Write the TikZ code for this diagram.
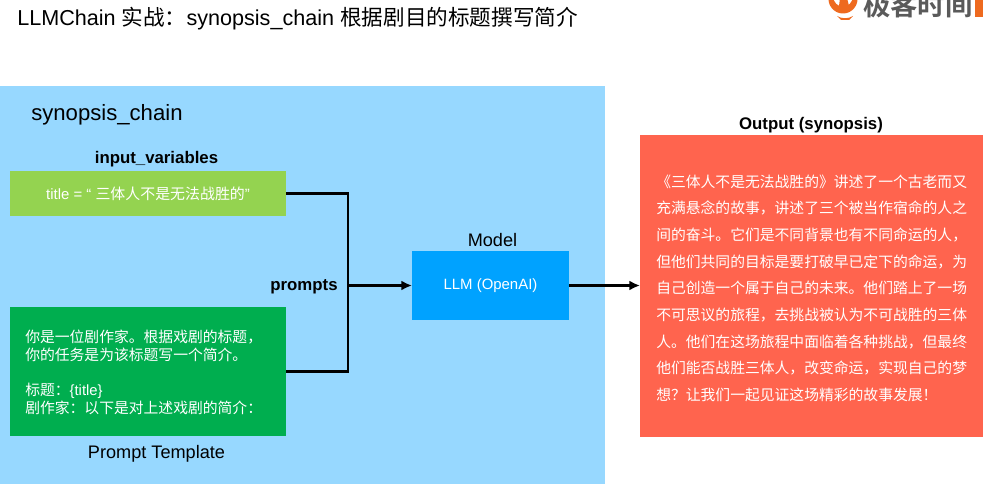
\documentclass[tikz,border=0pt]{standalone}
\usepackage{fontspec}
\setmainfont{Liberation Sans}
\newfontfamily\cjk{Noto Sans CJK SC}
\newfontfamily\cjkb{Noto Sans CJK SC Bold}
\newcommand{\cn}[1]{{\cjk #1}}
\definecolor{panelblue}{HTML}{97D8FF}
\definecolor{lightgreen}{HTML}{94D350}
\definecolor{darkgreen}{HTML}{00AE4F}
\definecolor{llmblue}{HTML}{00A2FF}
\definecolor{outred}{HTML}{FF644E}
\definecolor{logoorange}{HTML}{EE6A1F}
\definecolor{logogray}{HTML}{5A5A5A}
\usetikzlibrary{arrows.meta}
\tikzset{
  box/.style={draw=none,inner sep=0pt,outer sep=0pt,text=white,font=\fontsize{11.2}{13}\selectfont},
  head/.style={inner sep=0pt,font=\fontsize{12.6}{14}\selectfont\bfseries,text=black},
  plainhead/.style={inner sep=0pt,font=\fontsize{13.6}{15}\selectfont,text=black},
  conn/.style={draw=black,line width=2.2pt},
  arrowconn/.style={conn,-{Latex[length=8pt,width=7.5pt]}}
}
\begin{document}
\begin{tikzpicture}[x=0.75pt,y=-0.75pt]
\useasboundingbox (0,0) rectangle (983,484);
% panel
\fill[panelblue] (0,86) rectangle (605,484);
% title
\node[anchor=base west,inner sep=0pt,font=\fontsize{16.2}{19}\selectfont] (ttl) at (17,26)
  {LLMChain \cn{实战：}synopsis\_chain \cn{根据剧目的标题撰写简介}};
% logo
\begin{scope}
\clip (820,0) rectangle (983,40);
\fill[logoorange] (843,-1) circle[radius=14.5];
\fill[white] (843,-3) circle[radius=9.5];
\fill[logoorange] (837,16) .. controls (842,19) and (848,19) .. (853,16) -- (849,20) -- (841,20) -- cycle;
\fill[logoorange] (840,-2) -- (847,-2) -- (849,6) -- (844,13) -- (839,6) -- cycle;
\node[anchor=base west,inner sep=0pt,text=logogray,font=\fontsize{20.5}{22}\cjkb\selectfont] (logotext) at (863,15.5) {极客时间};
\fill[logoorange] (975,-2) rectangle (983,17);
\end{scope}
% heading
\node[anchor=base west,inner sep=0pt,font=\fontsize{16.6}{19}\selectfont] (chain) at (31,120.5) {synopsis\_chain};
% boxes
\node[box,fill=lightgreen,minimum width=276*0.75pt,minimum height=45*0.75pt,anchor=north west] (titlebox) at (10,171)
  {title = “ \cn{三体人不是无法战胜的}”};
\node[box,fill=darkgreen,minimum width=276*0.75pt,minimum height=129*0.75pt,anchor=north west] (tmpl) at (10,307) {};
\node[inner sep=0pt,anchor=north west,text=white,align=left,font=\fontsize{11.1}{13.2}\selectfont] (tmpltext) at (25,330)
  {\cn{你是一位剧作家。根据戏剧的标题，}\\ \cn{你的任务是为该标题写一个简介。}\\[13.2pt] \cn{标题：}\{title\}\\ \cn{剧作家：以下是对上述戏剧的简介：}};
\node[box,fill=llmblue,minimum width=157*0.75pt,minimum height=69*0.75pt,anchor=north west] (llm) at (412,251) {LLM (OpenAI)};
\node[box,fill=outred,minimum width=343*0.75pt,minimum height=302*0.75pt,anchor=north west] (out) at (640,135) {};
\node[inner sep=0pt,anchor=north west,text=white,align=left,font=\fontsize{11.1}{20.0}\cjk\selectfont] (outtext) at (656,174.5)
  {《三体人不是无法战胜的》讲述了一个古老而又\\
   充满悬念的故事，讲述了三个被当作宿命的人之\\
   间的奋斗。它们是不同背景也有不同命运的人，\\
   但他们共同的目标是要打破早已定下的命运，为\\
   自己创造一个属于自己的未来。他们踏上了一场\\
   不可思议的旅程，去挑战被认为不可战胜的三体\\
   人。他们在这场旅程中面临着各种挑战，但最终\\
   他们能否战胜三体人，改变命运，实现自己的梦\\
   想？让我们一起见证这场精彩的故事发展！};
% labels
\node[head] (inputlabel) at (156.5,159.5) {input\_variables};
\node[plainhead] (templabel) at (156.5,453.5) {Prompt Template};
\node[head] (promptslabel) at (304,287) {prompts};
\node[plainhead] (modellabel) at (492.5,240.5) {Model};
\node[head] (outlabel) at (811,125.5) {Output (synopsis)};
% connectors
\coordinate (joint) at (348,285.5);
\draw[conn,line cap=butt,line join=miter] (titlebox.east) -| (joint) |- (tmpl.east);
\draw[arrowconn] (joint) -- (llm.west);
\draw[arrowconn] (llm.east) -- (llm.east -| out.west);
\end{tikzpicture}
\end{document}
